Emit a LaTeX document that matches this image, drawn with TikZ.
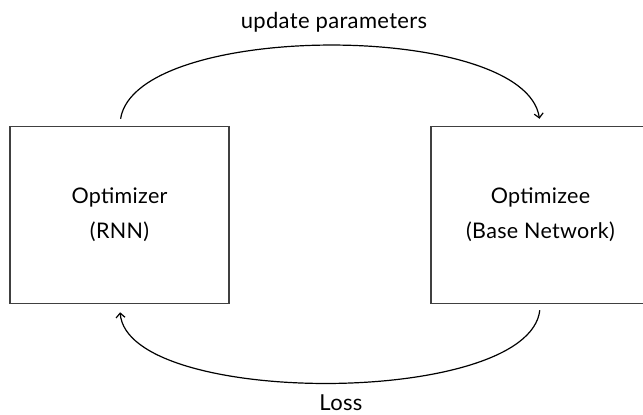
\documentclass[tikz,border=0pt]{standalone}
\usepackage{fontspec}
\setmainfont{Lato}[LetterSpace=1.5]
\usetikzlibrary{arrows.meta}
\tikzset{
  box/.style={draw=black!75, line width=1.6pt, minimum width=219pt, minimum height=177pt,
    align=center, font=\fontsize{21.5}{35}\selectfont, inner sep=0pt},
  flow/.style={draw=black, line width=1.2pt,
    -{Straight Barb[length=4.5pt,width=9pt,line width=1.2pt]}},
  lbl/.style={font=\fontsize{22}{26}\selectfont, inner sep=0pt}
}
\begin{document}
\begin{tikzpicture}[x=1pt, y=-1pt]
  \useasboundingbox (0,0) rectangle (643,415);
  \node[box] (opt) at (119.5,215) {Optimizer\\(RNN)};
  \node[box] (optee) at (540.5,215) {Optimizee\\(Base Network)};
  % parameter update arc, drawn over the top
  \draw[flow, shorten <=7pt, shorten >=7pt]
    (opt.north) .. controls +(16.5,-105) and +(-15.5,-105) .. (optee.north);
  % loss feedback arc, drawn underneath
  \draw[flow, shorten <=6pt, shorten >=8pt]
    (optee.south) .. controls +(-12,103) and +(8,103) .. (opt.south);
  \node[lbl] (upd) at (334,22) {update parameters};
  \node[lbl] (loss) at (341,403) {Loss};
\end{tikzpicture}
\end{document}
